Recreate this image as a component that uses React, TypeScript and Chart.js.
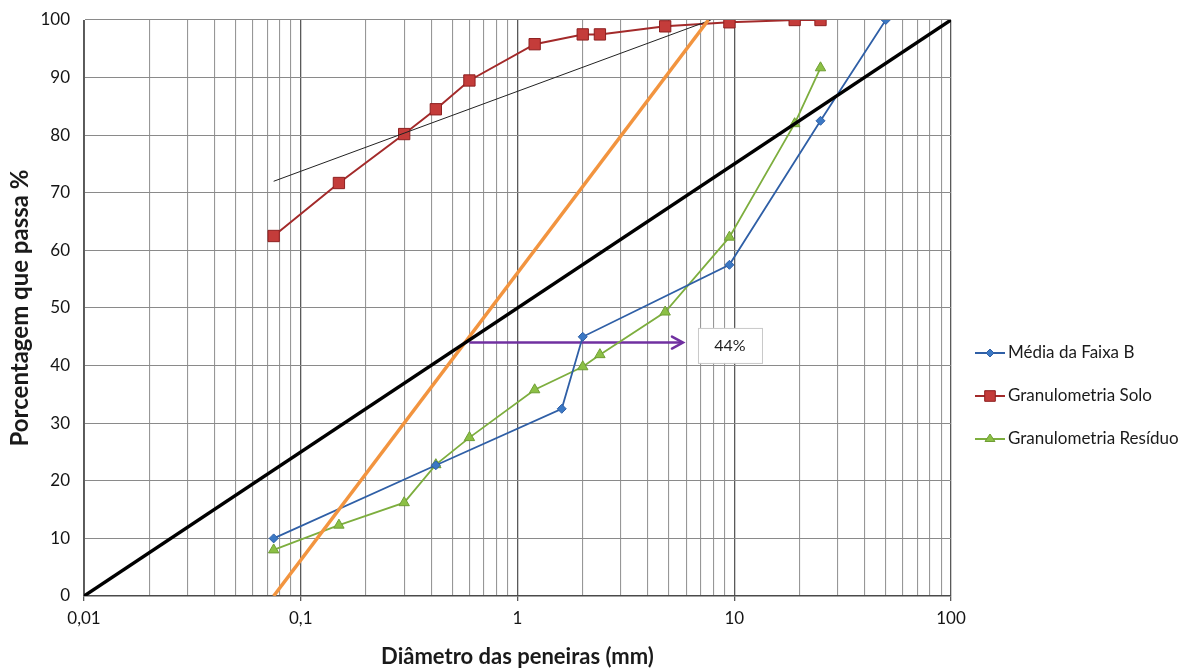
import React, { useEffect, useRef } from 'react';
import { Chart, registerables } from 'chart.js';

Chart.register(...registerables);

// ---------- data ----------
const sieveMediaB = [0.075, 0.42, 1.6, 2.0, 9.5, 25, 50];
const mediaB = [10, 22.7, 32.5, 45, 57.5, 82.5, 100];

const sieveSolo = [0.075, 0.15, 0.3, 0.42, 0.6, 1.2, 2.0, 2.4, 4.8, 9.5, 19, 25];
const solo = [62.5, 71.7, 80.2, 84.5, 89.5, 95.8, 97.5, 97.5, 98.9, 99.6, 100, 100];

const sieveResiduo = [0.075, 0.15, 0.3, 0.42, 0.6, 1.2, 2.0, 2.4, 4.8, 9.5, 19, 25];
const residuo = [8, 12.3, 16.2, 22.8, 27.5, 35.8, 39.8, 41.9, 49.3, 62.3, 82, 91.7];

// helper lines drawn on the chart
const refLineX = [0.01, 100];
const refLineY = [0, 100];
const orangeLineX = [0.075, 7.6];
const orangeLineY = [0, 100];
const thinLineX = [0.075, 7.8];
const thinLineY = [72, 100];
const arrowX = [0.6, 5.8];
const arrowY = [44, 44];
const annotationText = '44%';
const annotationY = 43.5;

// axis ticks
const xDecades = [0.01, 0.1, 1, 10];
const xMultipliers = [1, 2, 3, 4, 5, 6, 7, 8, 9];
const xLabelValues = [0.01, 0.1, 1, 10, 100];
const xLabelTexts = ['0,01', '0,1', '1', '10', '100'];

const seriesLabels = ['Média da Faixa B', 'Granulometria Solo', 'Granulometria Resíduo'];
const xTitle = 'Diâmetro das peneiras (mm)';
const yTitle = 'Porcentagem que passa %';

const FONT = 'Lato, "Open Sans", sans-serif';

const xTickValues: number[] = [];
xDecades.forEach((d) => xMultipliers.forEach((m) => xTickValues.push(Number((d * m).toPrecision(3)))));
xTickValues.push(100);

const pts = (xs: number[], ys: number[]) => xs.map((x, i) => ({ x, y: ys[i] }));
const isDecade = (v: number) => v != null && Math.abs(Math.log10(v) - Math.round(Math.log10(v))) < 1e-6;

function drawMarker(ctx: CanvasRenderingContext2D, style: string, x: number, y: number, r: number, fill: string, stroke: string) {
  ctx.save();
  ctx.beginPath();
  if (style === 'rectRot') {
    ctx.moveTo(x, y - r);
    ctx.lineTo(x + r, y);
    ctx.lineTo(x, y + r);
    ctx.lineTo(x - r, y);
    ctx.closePath();
  } else if (style === 'rect') {
    const s = r * Math.SQRT1_2;
    ctx.rect(x - s, y - s, 2 * s, 2 * s);
  } else {
    const h = r * 1.5;
    ctx.moveTo(x, y - h * 2 / 3);
    ctx.lineTo(x + r * 0.866 * 1.15, y + h / 3);
    ctx.lineTo(x - r * 0.866 * 1.15, y + h / 3);
    ctx.closePath();
  }
  ctx.fillStyle = fill;
  ctx.fill();
  ctx.strokeStyle = stroke;
  ctx.lineWidth = 1;
  ctx.stroke();
  ctx.restore();
}

const sideLegend = {
  id: 'sideLegend',
  afterDraw(chart: any) {
    const { ctx, chartArea } = chart;
    const x0 = chartArea.right + 24;
    const y0 = 353;
    const step = 43;
    let row = 0;
    chart.data.datasets.forEach((ds: any) => {
      if (!seriesLabels.includes(ds.label)) return;
      const y = y0 + row * step;
      row++;
      ctx.save();
      ctx.strokeStyle = ds.borderColor;
      ctx.lineWidth = 2;
      ctx.beginPath();
      ctx.moveTo(x0, y);
      ctx.lineTo(x0 + 30, y);
      ctx.stroke();
      drawMarker(ctx, ds.pointStyle, x0 + 15, y, ds.legendRadius, ds.pointBackgroundColor, ds.pointBorderColor);
      ctx.fillStyle = '#1a1a1a';
      ctx.font = `17px ${FONT}`;
      ctx.textBaseline = 'middle';
      ctx.textAlign = 'left';
      ctx.fillText(ds.label, x0 + 33, y);
      ctx.restore();
    });
  },
};

const arrowAnnotation = {
  id: 'arrowAnnotation',
  afterDatasetsDraw(chart: any) {
    const { ctx } = chart;
    const xs = chart.scales.x;
    const ys = chart.scales.y;
    const tipX = xs.getPixelForValue(arrowX[1]);
    const tipY = ys.getPixelForValue(arrowY[1]);
    ctx.save();
    ctx.strokeStyle = '#7030a0';
    ctx.lineWidth = 2.5;
    ctx.lineCap = 'round';
    ctx.beginPath();
    ctx.moveTo(tipX - 11, tipY - 6);
    ctx.lineTo(tipX, tipY);
    ctx.lineTo(tipX - 11, tipY + 6);
    ctx.stroke();

    const bx = tipX + 15;
    const by = ys.getPixelForValue(annotationY);
    const bw = 64;
    const bh = 35;
    ctx.fillStyle = '#ffffff';
    ctx.fillRect(bx, by - bh / 2, bw, bh);
    ctx.strokeStyle = '#c8c8c8';
    ctx.lineWidth = 1;
    ctx.strokeRect(bx + 0.5, by - bh / 2 + 0.5, bw, bh);
    ctx.fillStyle = '#222';
    ctx.font = `16px ${FONT}`;
    ctx.textAlign = 'center';
    ctx.textBaseline = 'middle';
    ctx.fillText(annotationText, bx + bw / 2, by);
    ctx.restore();
  },
};

export default function App() {
  const canvasRef = useRef<HTMLCanvasElement | null>(null);

  useEffect(() => {
    if (!canvasRef.current) return;
    const chart = new Chart(canvasRef.current, {
      type: 'line',
      data: {
        datasets: [
          {
            label: seriesLabels[0],
            data: pts(sieveMediaB, mediaB),
            borderColor: '#2f5fa6',
            borderWidth: 1.8,
            pointStyle: 'rectRot',
            pointRadius: 4.5,
            legendRadius: 4,
            pointBackgroundColor: '#3b78c4',
            pointBorderColor: '#2f5fa6',
            pointBorderWidth: 1,
            order: 2,
          } as any,
          {
            label: seriesLabels[1],
            data: pts(sieveSolo, solo),
            borderColor: '#a32a2a',
            borderWidth: 2,
            pointStyle: 'rect',
            pointRadius: 8,
            legendRadius: 7.5,
            pointBackgroundColor: '#c43c3a',
            pointBorderColor: '#8e1f1f',
            pointBorderWidth: 1,
            order: 2,
          } as any,
          {
            label: seriesLabels[2],
            data: pts(sieveResiduo, residuo),
            borderColor: '#7dae3e',
            borderWidth: 1.8,
            pointStyle: 'triangle',
            pointRadius: 6,
            legendRadius: 5,
            pointBackgroundColor: '#8cc045',
            pointBorderColor: '#6f9e35',
            pointBorderWidth: 1,
            order: 2,
          } as any,
          {
            label: 'Linha de referência',
            data: pts(refLineX, refLineY),
            borderColor: '#000000',
            borderWidth: 3.5,
            pointRadius: 0,
            order: 1,
          },
          {
            label: 'Tangente laranja',
            data: pts(orangeLineX, orangeLineY),
            borderColor: '#f2943f',
            borderWidth: 3.5,
            pointRadius: 0,
            order: 1,
          },
          {
            label: 'Tangente fina',
            data: pts(thinLineX, thinLineY),
            borderColor: '#222222',
            borderWidth: 1,
            pointRadius: 0,
            order: 1,
          },
          {
            label: 'Seta',
            data: pts(arrowX, arrowY),
            borderColor: '#7030a0',
            borderWidth: 2.5,
            pointRadius: 0,
            order: 3,
          },
        ],
      },
      options: {
        responsive: false,
        animation: false,
        layout: { padding: { top: 20, right: 235, left: 0, bottom: 0 } },
        elements: { line: { tension: 0 } },
        plugins: {
          legend: { display: false },
          tooltip: { enabled: false },
        },
        scales: {
          x: {
            type: 'logarithmic',
            min: 0.01,
            max: 100,
            afterBuildTicks: (scale: any) => {
              scale.ticks = xTickValues.map((v) => ({ value: v }));
            },
            afterFit: (scale: any) => {
              scale.height = 72;
            },
            ticks: {
              autoSkip: false,
              maxRotation: 0,
              padding: 7,
              color: '#141414',
              font: { family: FONT, size: 17 },
              callback: (value: any) => {
                const v = Number(value);
                const idx = xLabelValues.findIndex((lv) => Math.abs(Math.log10(lv) - Math.log10(v)) < 1e-6);
                return idx >= 0 ? xLabelTexts[idx] : '';
              },
            },
            grid: {
              color: (ctx: any) => (ctx.tick && isDecade(ctx.tick.value) ? '#595959' : '#979797'),
              tickColor: (ctx: any) => (ctx.tick && isDecade(ctx.tick.value) ? '#595959' : 'rgba(0,0,0,0)'),
              tickLength: 5,
              lineWidth: (ctx: any) => (ctx.tick && isDecade(ctx.tick.value) ? 1.3 : 1.1),
            },
            border: { color: '#4a4a4a', width: 1.5 },
            title: {
              display: true,
              text: xTitle,
              color: '#1a1a1a',
              font: { family: FONT, size: 22, weight: 'bold', lineHeight: 1 },
              padding: { top: 0, bottom: 0 },
            },
          },
          y: {
            type: 'linear',
            min: 0,
            max: 100,
            afterFit: (scale: any) => {
              scale.width = 84;
            },
            ticks: {
              stepSize: 10,
              padding: 2,
              color: '#141414',
              font: { family: FONT, size: 17 },
            },
            grid: {
              color: '#8a8a8a',
              drawTicks: true,
              tickLength: 12,
              tickColor: 'rgba(0,0,0,0)',
              lineWidth: 1.1,
            },
            border: { color: '#5e5e5e', width: 1 },
            title: {
              display: true,
              text: yTitle,
              color: '#1a1a1a',
              font: { family: FONT, size: 24, weight: 'bold', lineHeight: 1 },
              padding: { top: 8, bottom: 0 },
            },
          },
        },
      } as any,
      plugins: [sideLegend, arrowAnnotation],
    });
    return () => chart.destroy();
  }, []);

  return (
    <div style={{ position: 'absolute', left: 0, top: 0, width: 1186, height: 668, background: '#fff' }}>
      <canvas ref={canvasRef} width={1186} height={668} style={{ display: 'block' }} />
    </div>
  );
}
